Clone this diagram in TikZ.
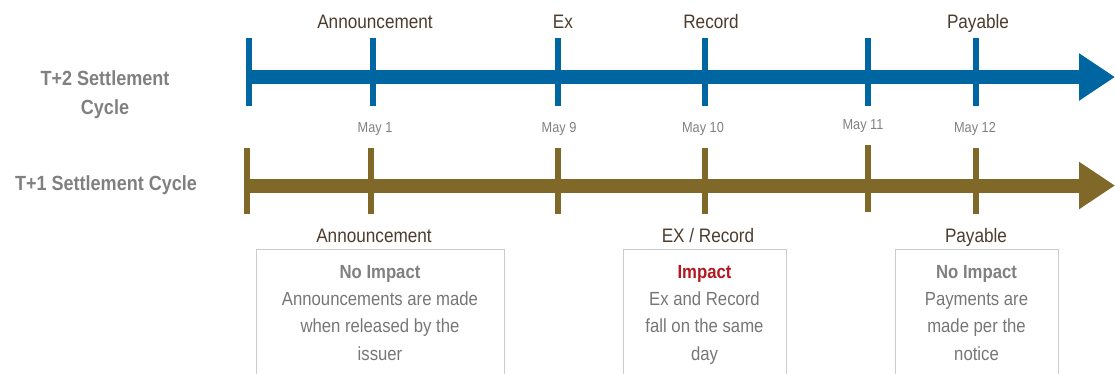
\documentclass[tikz,border=0pt]{standalone}
\usepackage{fontspec}
\setmainfont{Liberation Sans}[FakeStretch=0.88]
\usetikzlibrary{arrows.meta}
\definecolor{tblue}{RGB}{0,102,161}
\definecolor{tgold}{RGB}{128,105,40}
\definecolor{lbrown}{RGB}{77,60,45}
\definecolor{tgray}{RGB}{128,128,128}
\definecolor{ngray}{RGB}{118,118,118}
\definecolor{bgray}{RGB}{204,204,204}
\definecolor{ired}{RGB}{178,24,32}
\begin{document}
\begin{tikzpicture}[x=1pt,y=-1pt,
 axis/.style={line width=14pt,-{Triangle[length=36pt,width=45pt]}},
 tickmark/.style={line width=6pt},
 evt/.style={font=\fontsize{19.5}{22}\selectfont, text=lbrown, anchor=base, inner sep=0pt},
 datelbl/.style={font=\fontsize{14.5}{16}\selectfont, text=tgray, anchor=base, inner sep=0pt},
 cyc/.style={font=\bfseries\fontsize{20.5}{24}\selectfont, text=tgray, anchor=base, inner sep=0pt},
 note/.style={draw=bgray, line width=1.3pt, anchor=north west, inner sep=0pt},
 ntext/.style={font=\fontsize{19}{22}\selectfont, text=ngray, anchor=base, inner sep=0pt},
 nhead/.style={font=\bfseries\fontsize{19}{22}\selectfont, text=tgray, anchor=base, inner sep=0pt},
]
\useasboundingbox (0,0) rectangle (1115,373);
\clip (0,0) rectangle (1115,373);

% cycle labels
\node[cyc] (t2a) at (105,85) {T+2 Settlement};
\node[cyc] (t2b) at (105,114) {Cycle};
\node[cyc] (t1) at (106,190) {T+1 Settlement Cycle};

% T+2 timeline
\coordinate (bs) at (249,77);
\coordinate (be) at (1115,77);
\draw[tblue,axis] (bs) -- (be);
\foreach \x in {249,373,558,705,868,976}
  \draw[tblue,tickmark] (\x,38) -- (\x,106);

% T+1 timeline
\coordinate (gs) at (247,185.5);
\coordinate (ge) at (1115,185.5);
\draw[tgold,axis] (gs) -- (ge);
\foreach \x in {247,371,558,705,976}
  \draw[tgold,tickmark] (\x,148) -- (\x,214);
\draw[tgold,tickmark] (868,145) -- (868,212);

% top event labels
\node[evt] (ta) at (375,28) {Announcement};
\node[evt] (te) at (563,28) {Ex};
\node[evt] (tr) at (711,28) {Record};
\node[evt] (tp) at (978,28) {Payable};

% dates
\node[datelbl] (d1) at (375,132) {May 1};
\node[datelbl] (d9) at (559,132) {May 9};
\node[datelbl] (d10) at (703,132) {May 10};
\node[datelbl] (d11) at (863,129) {May 11};
\node[datelbl] (d12) at (975,132) {May 12};

% bottom event labels
\node[evt] (ba) at (374,242) {Announcement};
\node[evt] (ber) at (708,242) {EX / Record};
\node[evt] (bp) at (976,242) {Payable};

% boxes
\node[note, minimum width=248pt, minimum height=150pt] (box1) at (256,249) {};
\node[note, minimum width=163pt, minimum height=150pt] (box2) at (623,249) {};
\node[note, minimum width=163pt, minimum height=150pt] (box3) at (895,249) {};

\node[nhead] (h1) at (380,278) {No Impact};
\node[ntext] (l11) at (380,305) {Announcements are made};
\node[ntext] (l12) at (380,332) {when released by the};
\node[ntext] (l13) at (380,360) {issuer};

\node[nhead, text=ired] (h2) at (704.5,278) {Impact};
\node[ntext] (l21) at (704.5,305) {Ex and Record};
\node[ntext] (l22) at (704.5,332) {fall on the same};
\node[ntext] (l23) at (704.5,360) {day};

\node[nhead] (h3) at (976.5,278) {No Impact};
\node[ntext] (l31) at (976.5,305) {Payments are};
\node[ntext] (l32) at (976.5,332) {made per the};
\node[ntext] (l33) at (976.5,360) {notice};
\end{tikzpicture}
\end{document}
